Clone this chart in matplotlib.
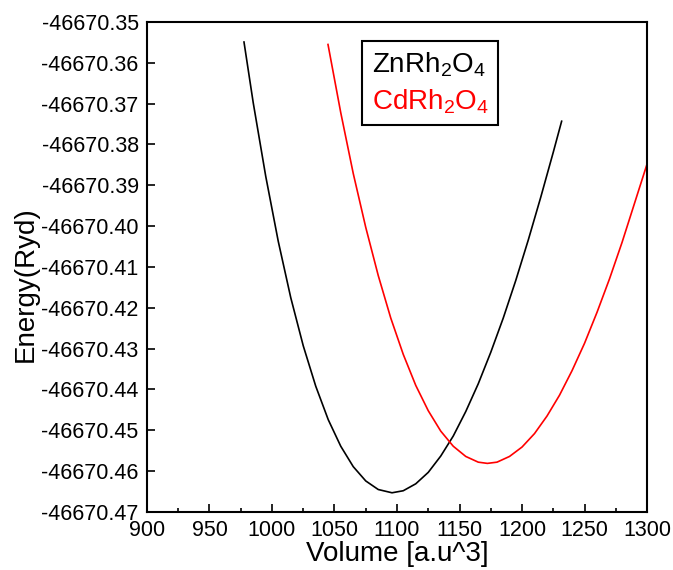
"""E-V curves (Birch-Murnaghan fit style) for ZnRh2O4 and CdRh2O4."""
import matplotlib

matplotlib.use("Agg")
import matplotlib.pyplot as plt
from matplotlib.ticker import FormatStrFormatter, MultipleLocator

plt.rcParams["font.family"] = ["Liberation Sans", "DejaVu Sans"]
plt.rcParams["mathtext.fontset"] = "custom"
plt.rcParams["mathtext.rm"] = "Liberation Sans"

# values
zn_volume = [977.6, 985, 995, 1005, 1015, 1025, 1035, 1045, 1055, 1065, 1075,
             1085, 1096, 1105, 1115, 1125, 1135, 1145, 1155, 1165, 1175, 1185,
             1195, 1205, 1215, 1225, 1231.7]
zn_energy = [-46670.3549, -46670.3698, -46670.3878, -46670.4037, -46670.4175,
             -46670.4293, -46670.4392, -46670.4474, -46670.4539, -46670.4589,
             -46670.4624, -46670.4645, -46670.4653, -46670.4648, -46670.4631,
             -46670.4603, -46670.4563, -46670.4514, -46670.4454, -46670.4386,
             -46670.4309, -46670.4225, -46670.4133, -46670.4034, -46670.3929,
             -46670.3819, -46670.3743]

cd_volume = [1044.8, 1055, 1065, 1075, 1085, 1095, 1105, 1115, 1125, 1135, 1145,
             1155, 1165, 1172.3, 1180, 1190, 1200, 1210, 1220, 1230, 1240, 1250,
             1260, 1270, 1280, 1290, 1300]
cd_energy = [-46670.3555, -46670.3722, -46670.3871, -46670.4003, -46670.4121,
             -46670.4225, -46670.4314, -46670.4390, -46670.4452, -46670.4502,
             -46670.4539, -46670.4564, -46670.4578, -46670.4581, -46670.4578,
             -46670.4564, -46670.4541, -46670.4508, -46670.4465, -46670.4414,
             -46670.4354, -46670.4287, -46670.4211, -46670.4129, -46670.4040,
             -46670.3944, -46670.3848]

x_ticks = [900, 950, 1000, 1050, 1100, 1150, 1200, 1250, 1300]
y_ticks = [-46670.47, -46670.46, -46670.45, -46670.44, -46670.43, -46670.42,
           -46670.41, -46670.40, -46670.39, -46670.38, -46670.37, -46670.36,
           -46670.35]

fig = plt.figure(figsize=(6.73, 5.70), dpi=100)
ax = fig.add_axes([0.2184, 0.1018, 0.743, 0.8596])

ax.plot(zn_volume, zn_energy, color="black", lw=1.2, label=r"ZnRh$\mathregular{_2}$O$\mathregular{_4}$")
ax.plot(cd_volume, cd_energy, color="red", lw=1.2, label=r"CdRh$\mathregular{_2}$O$\mathregular{_4}$")

ax.set_xlim(900, 1300)
ax.set_ylim(-46670.47, -46670.35)
ax.set_xticks(x_ticks)
ax.set_yticks(y_ticks)
ax.xaxis.set_minor_locator(MultipleLocator(25))
ax.yaxis.set_major_formatter(FormatStrFormatter("%.2f"))

ax.tick_params(which="both", direction="in", top=False, right=False,
               labelsize=15.5, width=1.2)
ax.tick_params(which="major", length=6, pad=6)
ax.tick_params(which="minor", length=3)
for s in ax.spines.values():
    s.set_linewidth(1.5)

ax.set_xlabel("Volume [a.u^3]", fontsize=20, labelpad=0)
ax.set_ylabel("Energy(Ryd)", fontsize=20)
ax.yaxis.set_label_coords(-0.217, 0.465)

leg = ax.legend(loc="upper center", bbox_to_anchor=(0.566, 0.962), fontsize=20,
                handlelength=0, handletextpad=0, labelcolor="linecolor",
                fancybox=False, edgecolor="black", framealpha=1,
                borderpad=0.35, labelspacing=0.3, borderaxespad=0)
leg.get_frame().set_linewidth(1.5)
for h in leg.legend_handles:
    h.set_visible(False)

fig.savefig("out.png", dpi=100)
